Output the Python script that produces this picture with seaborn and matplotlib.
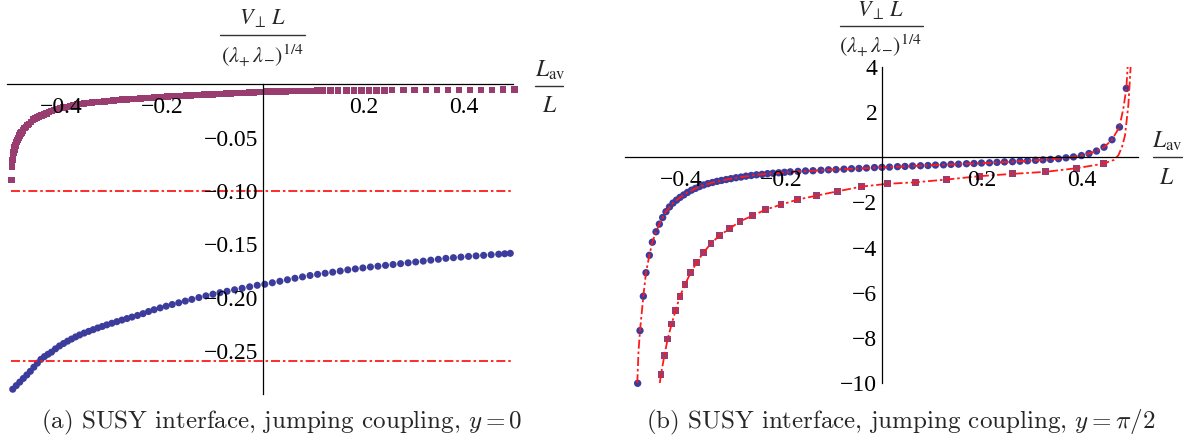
import matplotlib
matplotlib.use("Agg")
import matplotlib.pyplot as plt
import seaborn as sns
from matplotlib.lines import Line2D
from matplotlib.ticker import MultipleLocator

# ---- panel (a): y = 0 ----
sq_a_x = [-0.499, -0.498, -0.497, -0.496, -0.495, -0.494, -0.493, -0.492, -0.490, -0.488,
          -0.486, -0.484, -0.482, -0.480, -0.477, -0.474, -0.471, -0.468, -0.465, -0.461,
          -0.457, -0.453, -0.449, -0.445, -0.440, -0.435, -0.430, -0.425, -0.420, -0.414,
          -0.408, -0.402, -0.396, -0.390, -0.383, -0.376, -0.369, -0.362, -0.355, -0.347,
          -0.339, -0.331, -0.323, -0.315, -0.306, -0.297, -0.288, -0.279, -0.270, -0.261,
          -0.252, -0.243, -0.234, -0.225, -0.216, -0.207, -0.198, -0.189, -0.180, -0.171,
          -0.162, -0.153, -0.144, -0.135, -0.126, -0.117, -0.108, -0.099, -0.090, -0.081,
          -0.072, -0.063, -0.054, -0.045, -0.036, -0.027, -0.018, -0.009, 0.000, 0.009,
          0.018, 0.027, 0.036, 0.045, 0.054, 0.063, 0.072, 0.081, 0.090, 0.099,
          0.108, 0.120, 0.135, 0.150, 0.166, 0.181, 0.196, 0.211, 0.226, 0.242,
          0.257, 0.280, 0.302, 0.324, 0.346, 0.368, 0.390, 0.412, 0.434, 0.456,
          0.478, 0.500]
sq_a_y = [-0.0896, -0.0770, -0.0710, -0.0670, -0.0640, -0.0610, -0.0590, -0.0570, -0.0540, -0.0520,
          -0.0500, -0.0480, -0.0460, -0.0450, -0.0430, -0.0410, -0.0400, -0.0380, -0.0370, -0.0350,
          -0.0330, -0.0320, -0.0310, -0.0300, -0.0290, -0.0280, -0.0270, -0.0260, -0.0250, -0.0240,
          -0.0230, -0.0220, -0.0215, -0.0210, -0.0203, -0.0196, -0.0190, -0.0185, -0.0180, -0.0175,
          -0.0170, -0.0166, -0.0162, -0.0158, -0.0154, -0.0150, -0.0146, -0.0143, -0.0140, -0.0137,
          -0.0134, -0.0131, -0.0128, -0.0125, -0.0122, -0.0119, -0.0116, -0.0113, -0.0110, -0.0108,
          -0.0106, -0.0104, -0.0102, -0.0100, -0.0098, -0.0096, -0.0094, -0.0092, -0.0090, -0.0088,
          -0.0086, -0.0084, -0.0082, -0.0080, -0.0078, -0.0076, -0.0074, -0.0072, -0.0070, -0.0068,
          -0.0067, -0.0066, -0.0065, -0.0064, -0.0063, -0.0062, -0.0061, -0.0060, -0.0060, -0.0059,
          -0.0058, -0.0058, -0.0057, -0.0057, -0.0056, -0.0056, -0.0055, -0.0055, -0.0054, -0.0054,
          -0.0053, -0.0053, -0.0052, -0.0052, -0.0051, -0.0051, -0.0051, -0.0050, -0.0050, -0.0050,
          -0.0049, -0.0049]

dot_a_x = [-0.497, -0.490, -0.483, -0.476, -0.469, -0.462, -0.455, -0.448, -0.441, -0.434,
           -0.427, -0.420, -0.412, -0.404, -0.396, -0.388, -0.380, -0.372, -0.364, -0.355,
           -0.346, -0.337, -0.328, -0.319, -0.310, -0.300, -0.290, -0.280, -0.270, -0.260,
           -0.249, -0.238, -0.227, -0.216, -0.204, -0.192, -0.180, -0.167, -0.154, -0.141,
           -0.127, -0.113, -0.099, -0.085, -0.071, -0.056, -0.041, -0.026, -0.011, 0.004,
           0.019, 0.034, 0.049, 0.064, 0.079, 0.094, 0.109, 0.124, 0.139, 0.154,
           0.169, 0.184, 0.199, 0.214, 0.229, 0.244, 0.259, 0.274, 0.289, 0.304,
           0.319, 0.334, 0.349, 0.364, 0.379, 0.394, 0.409, 0.424, 0.439, 0.454,
           0.469, 0.481, 0.492]
dot_a_y = [-0.2859, -0.2825, -0.2792, -0.2758, -0.2725, -0.2691, -0.2652, -0.2614, -0.2579, -0.2553,
           -0.2531, -0.2511, -0.2480, -0.2453, -0.2430, -0.2408, -0.2388, -0.2368, -0.2350, -0.2332,
           -0.2316, -0.2300, -0.2284, -0.2270, -0.2255, -0.2240, -0.2225, -0.2210, -0.2196, -0.2182,
           -0.2167, -0.2150, -0.2130, -0.2113, -0.2096, -0.2080, -0.2064, -0.2048, -0.2032, -0.2016,
           -0.1999, -0.1983, -0.1967, -0.1953, -0.1940, -0.1926, -0.1912, -0.1898, -0.1884, -0.1874,
           -0.1860, -0.1846, -0.1832, -0.1818, -0.1805, -0.1792, -0.1781, -0.1771, -0.1761, -0.1750,
           -0.1739, -0.1730, -0.1721, -0.1712, -0.1705, -0.1697, -0.1689, -0.1681, -0.1673, -0.1665,
           -0.1657, -0.1648, -0.1640, -0.1631, -0.1625, -0.1619, -0.1613, -0.1608, -0.1603, -0.1597,
           -0.1592, -0.1588, -0.1584]

hline_a = [-0.10, -0.259]

# ---- panel (b): y = pi/2 ----
dot_b_x = [-0.4877, -0.4830, -0.4763, -0.4710, -0.4643, -0.4583, -0.4510, -0.4443, -0.4377, -0.4310,
           -0.4240, -0.4170, -0.4100, -0.4030, -0.3955, -0.3880, -0.3800, -0.3720, -0.3640, -0.3555,
           -0.3470, -0.3380, -0.3290, -0.3200, -0.3105, -0.3010, -0.2910, -0.2810, -0.2710, -0.2605,
           -0.2500, -0.2390, -0.2280, -0.2170, -0.2055, -0.1940, -0.1825, -0.167, -0.152, -0.137,
           -0.121, -0.106, -0.091, -0.075, -0.060, -0.045, -0.030, -0.014, 0.001, 0.016,
           0.032, 0.047, 0.062, 0.078, 0.093, 0.108, 0.124, 0.139, 0.154, 0.170,
           0.185, 0.200, 0.216, 0.231, 0.246, 0.262, 0.277, 0.292, 0.308, 0.323,
           0.338, 0.354, 0.369, 0.384, 0.400, 0.415, 0.430, 0.445, 0.461, 0.476,
           0.4897]
dot_b_y = [-10.0, -7.67, -6.15, -5.11, -4.34, -3.76, -3.30, -2.96, -2.67, -2.41,
           -2.20, -2.03, -1.90, -1.78, -1.67, -1.56, -1.46, -1.38, -1.30, -1.23,
           -1.17, -1.12, -1.07, -1.03, -0.99, -0.95, -0.91, -0.88, -0.84, -0.81,
           -0.78, -0.76, -0.73, -0.71, -0.69, -0.67, -0.65, -0.63, -0.61, -0.60,
           -0.58, -0.56, -0.55, -0.53, -0.51, -0.50, -0.48, -0.46, -0.45, -0.44,
           -0.42, -0.41, -0.39, -0.38, -0.37, -0.35, -0.34, -0.32, -0.31, -0.29,
           -0.28, -0.26, -0.25, -0.23, -0.21, -0.20, -0.18, -0.16, -0.14, -0.12,
           -0.10, -0.07, -0.03, 0.01, 0.07, 0.16, 0.27, 0.44, 0.77, 1.33,
           3.04]

sq_b_x = [-0.441, -0.4343, -0.4277, -0.4197, -0.4117, -0.403, -0.393, -0.3817, -0.3697, -0.3563,
          -0.341, -0.3243, -0.3043, -0.283, -0.2583, -0.2317, -0.201, -0.1683, -0.1297, -0.0877,
          -0.0397, 0.0117, 0.0683, 0.130, 0.1963, 0.2617, 0.3277, 0.3897, 0.4437]
sq_b_y = [-9.60, -8.78, -8.04, -7.38, -6.77, -6.15, -5.63, -5.11, -4.67, -4.22,
          -3.82, -3.47, -3.17, -2.84, -2.59, -2.32, -2.10, -1.88, -1.70, -1.51,
          -1.30, -1.18, -1.11, -0.99, -0.84, -0.74, -0.65, -0.49, -0.29]

fit_dot_x = [-0.4885, -0.4860, -0.4830, -0.4763, -0.4710, -0.4643, -0.4583, -0.4510, -0.4443, -0.4377,
             -0.4310, -0.4170, -0.4030, -0.3880, -0.3640, -0.3380, -0.3010, -0.2500, -0.1940, -0.121,
             -0.045, 0.032, 0.108, 0.185, 0.262, 0.323, 0.369, 0.400, 0.430, 0.445,
             0.461, 0.4757, 0.4837, 0.4897, 0.4923]
fit_dot_y = [-10.0, -8.60, -7.67, -6.15, -5.11, -4.34, -3.76, -3.30, -2.96, -2.67,
             -2.41, -2.03, -1.78, -1.56, -1.30, -1.12, -0.95, -0.78, -0.67, -0.58,
             -0.50, -0.42, -0.35, -0.28, -0.20, -0.12, -0.03, 0.07, 0.27, 0.44,
             0.77, 1.33, 2.15, 3.04, 4.0]

fit_sq_x = [-0.4435, -0.441, -0.4343, -0.4277, -0.4197, -0.4117, -0.403, -0.393, -0.3817, -0.3697,
            -0.3563, -0.341, -0.3243, -0.3043, -0.283, -0.2583, -0.2317, -0.201, -0.1683, -0.1297,
            -0.0877, -0.0397, 0.0117, 0.0683, 0.130, 0.1963, 0.2617, 0.3277, 0.3897, 0.4437,
            0.4650, 0.4737, 0.4810, 0.4870, 0.4937, 0.4983]
fit_sq_y = [-10.0, -9.60, -8.78, -8.04, -7.38, -6.77, -6.15, -5.63, -5.11, -4.67,
            -4.22, -3.82, -3.47, -3.17, -2.84, -2.59, -2.32, -2.10, -1.88, -1.70,
            -1.51, -1.30, -1.18, -1.11, -0.99, -0.84, -0.74, -0.65, -0.49, -0.29,
            -0.12, 0.08, 0.45, 0.96, 2.30, 4.0]

xticks = [-0.4, -0.2, 0.2, 0.4]
xticklabels = ['\u22120.4', '\u22120.2', '0.2', '0.4']
yticks_a = [-0.25, -0.20, -0.15, -0.10, -0.05]
yticklabels_a = ['\u22120.25', '\u22120.20', '\u22120.15', '\u22120.10', '\u22120.05']
yticks_b = [-10, -8, -6, -4, -2, 2, 4]
yticklabels_b = ['\u221210', '\u22128', '\u22126', '\u22124', '\u22122', '2', '4']

captions = ['(a) SUSY interface, jumping coupling, $y = 0$',
            '(b) SUSY interface, jumping coupling, $y = \\pi/2$']

BLUE = '#3c3c9c'
MAGENTA = '#993d71'
RED = '#ff1a1a'
DASHDOT = (0, (5, 1.6, 1.4, 1.6))

sns.set_style("white")
plt.rcParams['font.family'] = ['Liberation Serif', 'DejaVu Serif']
plt.rcParams['mathtext.fontset'] = 'stix'

W, H = 1193, 444
fig = plt.figure(figsize=(W / 100, H / 100), dpi=100)


def px_axes(x0, y0, x1, y1):
    return fig.add_axes([x0 / W, 1 - y1 / H, (x1 - x0) / W, (y1 - y0) / H])


def style_axes(ax, yticks, yticklabels, yminor):
    for side in ['top', 'right']:
        ax.spines[side].set_visible(False)
    for side in ['left', 'bottom']:
        ax.spines[side].set_position(('data', 0))
        ax.spines[side].set_linewidth(0.9)
        ax.spines[side].set_color('black')
        ax.spines[side].set_zorder(2.6)
    ax.set_axisbelow(False)
    ax.set_xticks(xticks)
    ax.set_xticklabels(xticklabels)
    ax.set_yticks(yticks)
    ax.set_yticklabels(yticklabels)
    ax.xaxis.set_minor_locator(MultipleLocator(0.05))
    ax.yaxis.set_minor_locator(MultipleLocator(yminor))
    ax.tick_params(which='both', direction='in', width=0.6, colors='#222222',
                   labelcolor='black', labelsize=17)
    ax.tick_params(which='major', length=4.2)
    ax.tick_params(which='minor', length=2.3)
    ax.tick_params(axis='x', which='major', pad=9)
    ax.tick_params(axis='y', which='major', pad=3)
    ax.set_xlabel('')
    ax.set_ylabel('')
    ax.patch.set_alpha(0)


def frac_label(cx, ytop, ybar, ybot, top, bot, bx0, bx1, size):
    fig.text(cx / W, 1 - ytop / H, top, ha='center', va='center', fontsize=size)
    fig.text(cx / W, 1 - ybot / H, bot, ha='center', va='center', fontsize=size)
    fig.add_artist(Line2D([bx0 / W, bx1 / W], [1 - ybar / H, 1 - ybar / H],
                          color='#333333', lw=1.0, transform=fig.transFigure))


# panel (a)
ax1 = px_axes(6.7, 84.5, 513.3, 393.6)
ax1.set_xlim(-0.509, 0.498)
ax1.set_ylim(-0.29, 0.0)
ax1.hlines(hline_a, -0.5, 0.495, colors=RED, linestyles=[DASHDOT], lw=1.3, zorder=2.2)
sns.scatterplot(x=sq_a_x, y=sq_a_y, ax=ax1, marker='s', s=22, color=MAGENTA,
                edgecolor='none', linewidth=0, clip_on=False, zorder=2)
sns.scatterplot(x=dot_a_x, y=dot_a_y, ax=ax1, marker='o', s=26, color=BLUE,
                edgecolor='none', linewidth=0, clip_on=False, zorder=2)
style_axes(ax1, yticks_a, yticklabels_a, 0.01)

# panel (b)
ax2 = px_axes(625, 66.7, 1138, 383.3)
ax2.set_xlim(-0.513, 0.513)
ax2.set_ylim(-10, 4)
sns.scatterplot(x=dot_b_x, y=dot_b_y, ax=ax2, marker='o', s=28, color=BLUE,
                edgecolor='none', linewidth=0, clip_on=False, zorder=2)
sns.scatterplot(x=sq_b_x, y=sq_b_y, ax=ax2, marker='s', s=24, color=MAGENTA,
                edgecolor='none', linewidth=0, clip_on=False, zorder=2)
sns.lineplot(x=fit_dot_x, y=fit_dot_y, ax=ax2, sort=False, estimator=None, color=RED,
             lw=1.3, linestyle=DASHDOT, zorder=2.2)
sns.lineplot(x=fit_sq_x, y=fit_sq_y, ax=ax2, sort=False, estimator=None, color=RED,
             lw=1.3, linestyle=DASHDOT, zorder=2.2)
style_axes(ax2, yticks_b, yticklabels_b, 0.5)

# axis labels as stacked fractions
ylab_top = r'$V_{\perp}\,L$'
ylab_bot = r'$(\lambda_{+}\,\lambda_{-})^{1/4}$'
xlab_top = r'$L_{\mathrm{av}}$'
xlab_bot = r'$L$'
frac_label(263, 18, 35, 56, ylab_top, ylab_bot, 220, 305, 16)
frac_label(881, 10, 26, 46, ylab_top, ylab_bot, 840, 923, 16)
frac_label(550, 70, 86, 106, xlab_top, xlab_bot, 535, 563, 17)
frac_label(1167, 141, 157, 178, xlab_top, xlab_bot, 1153, 1182, 17)

# sub-captions
for cx, txt in zip([281.5, 900.5], captions):
    fig.text(cx / W, 1 - 422 / H, txt, ha='center', va='center', fontsize=18,
             family='cmr10', math_fontfamily='cm')

fig.savefig('out.png', dpi=100)
